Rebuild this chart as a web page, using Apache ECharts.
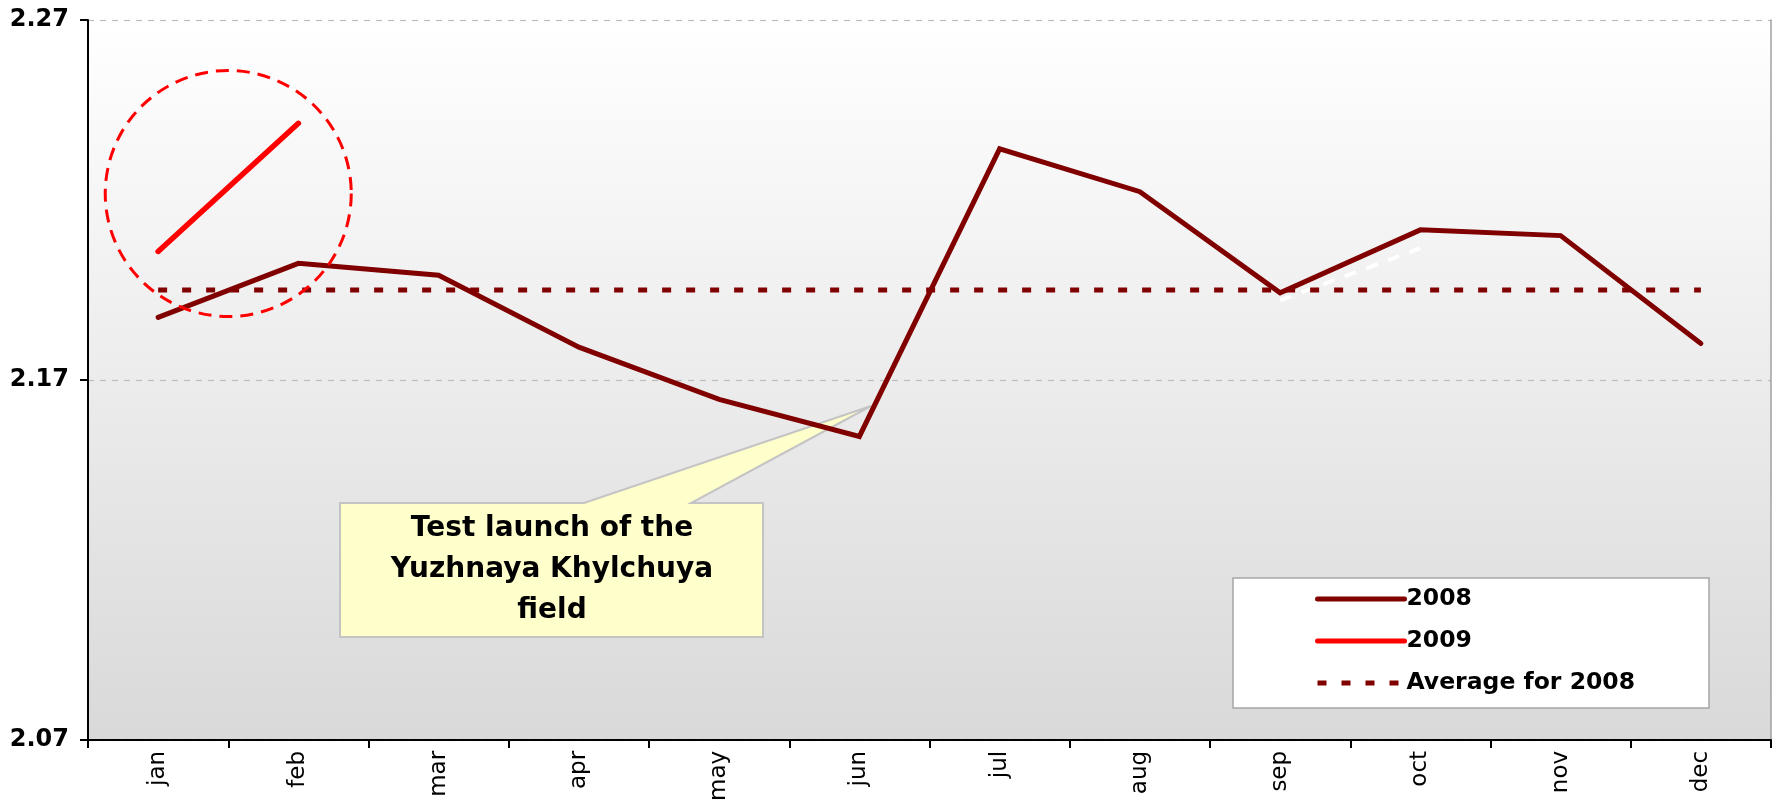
<!DOCTYPE html>
<html>
<head>
<meta charset="utf-8">
<title>Monthly output 2008–2009</title>
<script src="https://cdn.jsdelivr.net/npm/echarts@6/dist/echarts.min.js"></script>
<style>
  html, body { margin: 0; padding: 0; background: #ffffff; }
  #chart { width: 1777px; height: 804px; }
</style>
</head>
<body>
<div id="chart"></div>
<script>
// Months on the category axis
const months = ['jan', 'feb', 'mar', 'apr', 'may', 'jun', 'jul', 'aug', 'sep', 'oct', 'nov', 'dec'];
// Monthly values
const values2008 = [2.1874, 2.2024, 2.1991, 2.1791, 2.1646, 2.1543, 2.2342, 2.2223, 2.1942, 2.2117, 2.2101, 2.1801];
const values2009 = [2.2057, 2.2413];
// Annual mean for 2008
const average2008 = 2.1950;
// Faint white dashed trace between sep and oct
const traceSepOct = [null, null, null, null, null, null, null, null, 2.1921, 2.2066, null, null];
// Value axis ticks
const yTicks = [2.07, 2.17, 2.27];
// Centre of the highlight ring (between jan and feb)
const ringCentreValue = 2.2218;

const FONT = '"DejaVu Sans", Verdana, sans-serif';
const MAROON = '#800000';

const chart = echarts.init(document.getElementById('chart'), null, { renderer: 'canvas' });

const option = {
  animation: false,
  backgroundColor: '#ffffff',
  grid: {
    left: 88, right: 6, top: 20, bottom: 58,
    show: true,
    borderWidth: 0,
    backgroundColor: new echarts.graphic.LinearGradient(0, 0, 0, 1, [
      { offset: 0, color: '#ffffff' },
      { offset: 1, color: '#d9d9d9' }
    ])
  },
  xAxis: {
    type: 'category',
    data: months,
    boundaryGap: true,
    axisLine: { show: true, lineStyle: { color: '#000000', width: 2 } },
    axisTick: { show: true, length: 8, lineStyle: { color: '#000000', width: 2 } },
    axisLabel: {
      rotate: 90,
      margin: 11,
      color: '#000000',
      fontFamily: FONT,
      fontSize: 23
    },
    splitLine: { show: false }
  },
  yAxis: [
    {
      type: 'value',
      min: yTicks[0],
      max: yTicks[yTicks.length - 1],
      interval: yTicks[1] - yTicks[0],
      axisLine: { show: true, lineStyle: { color: '#000000', width: 2 } },
      axisTick: { show: true, length: 8, lineStyle: { color: '#000000', width: 2 } },
      axisLabel: {
        margin: 19,
        color: '#000000',
        fontFamily: FONT,
        fontWeight: 'bold',
        fontSize: 24,
        formatter: v => v.toFixed(2)
      },
      splitLine: { show: true, lineStyle: { color: '#bdbdbd', width: 1.2, type: [6, 6] } }
    },
    {
      // right-hand frame of the plot area
      type: 'value',
      position: 'right',
      min: yTicks[0],
      max: yTicks[yTicks.length - 1],
      axisLine: { show: true, lineStyle: { color: '#a0a0a0', width: 1.5 } },
      axisTick: { show: false },
      axisLabel: { show: false },
      splitLine: { show: false }
    }
  ],
  legend: {
    data: ['2008', '2009', 'Average for 2008'],
    orient: 'vertical',
    left: 1315,
    top: 585,
    padding: 0,
    itemWidth: 87,
    itemHeight: 14,
    itemGap: 14,
    itemStyle: { opacity: 0 },
    lineStyle: { width: 5 },
    textStyle: {
      color: '#000000',
      fontFamily: FONT,
      fontWeight: 'bold',
      fontSize: 23.5,
      lineHeight: 28,
      padding: [0, 0, 0, -3]
    },
    z: 6
  },
  series: [
    {
      type: 'line',
      data: traceSepOct,
      showSymbol: false,
      symbol: 'none',
      silent: true,
      z: 1,
      lineStyle: { color: '#ffffff', width: 4, type: [12, 11] }
    },
    {
      name: '2008',
      type: 'line',
      data: values2008,
      symbol: 'none',
      z: 3,
      color: MAROON,
      lineStyle: { color: MAROON, width: 5, cap: 'round', join: 'miter' }
    },
    {
      name: '2009',
      type: 'line',
      data: values2009,
      symbol: 'none',
      z: 4,
      color: '#ff0000',
      lineStyle: { color: '#ff0000', width: 5.5, cap: 'round' }
    },
    {
      name: 'Average for 2008',
      type: 'line',
      data: months.map(() => average2008),
      symbol: 'none',
      z: 2,
      color: MAROON,
      lineStyle: { color: MAROON, width: 5, type: [9, 15], cap: 'butt' }
    }
  ]
};

chart.setOption(option);

// Highlight ring around the start of 2009, centred between jan and feb
const janPx = chart.convertToPixel({ gridIndex: 0 }, [0, ringCentreValue]);
const febPx = chart.convertToPixel({ gridIndex: 0 }, [1, ringCentreValue]);
const ringX = (janPx[0] + febPx[0]) / 2;
const ringY = janPx[1];

chart.setOption({
  graphic: {
    elements: [
      {
        // white frame behind the legend
        type: 'rect',
        shape: { x: 1233, y: 578, width: 476, height: 130 },
        style: { fill: '#ffffff', stroke: '#a6a6a6', lineWidth: 1.5 },
        z: 5,
        silent: true
      },
      {
        // callout bubble
        type: 'polygon',
        shape: {
          points: [[340, 503], [584, 503], [871, 406], [691, 503], [763, 503], [763, 637], [340, 637]]
        },
        style: { fill: '#ffffcc', stroke: '#c4c4c4', lineWidth: 2 },
        z: 1,
        silent: true
      },
      {
        type: 'text',
        x: 552,
        y: 570,
        style: {
          text: 'Test launch of the\nYuzhnaya Khylchuya\nfield',
          fill: '#000000',
          font: 'bold 28px ' + FONT,
          lineHeight: 41,
          align: 'center',
          verticalAlign: 'middle'
        },
        z: 2,
        silent: true
      },
      {
        type: 'circle',
        shape: { cx: ringX, cy: ringY, r: 123 },
        style: { fill: 'none', stroke: '#ff0000', lineWidth: 3, lineDash: [13, 8] },
        z: 10,
        silent: true
      }
    ]
  }
});
</script>
</body>
</html>
